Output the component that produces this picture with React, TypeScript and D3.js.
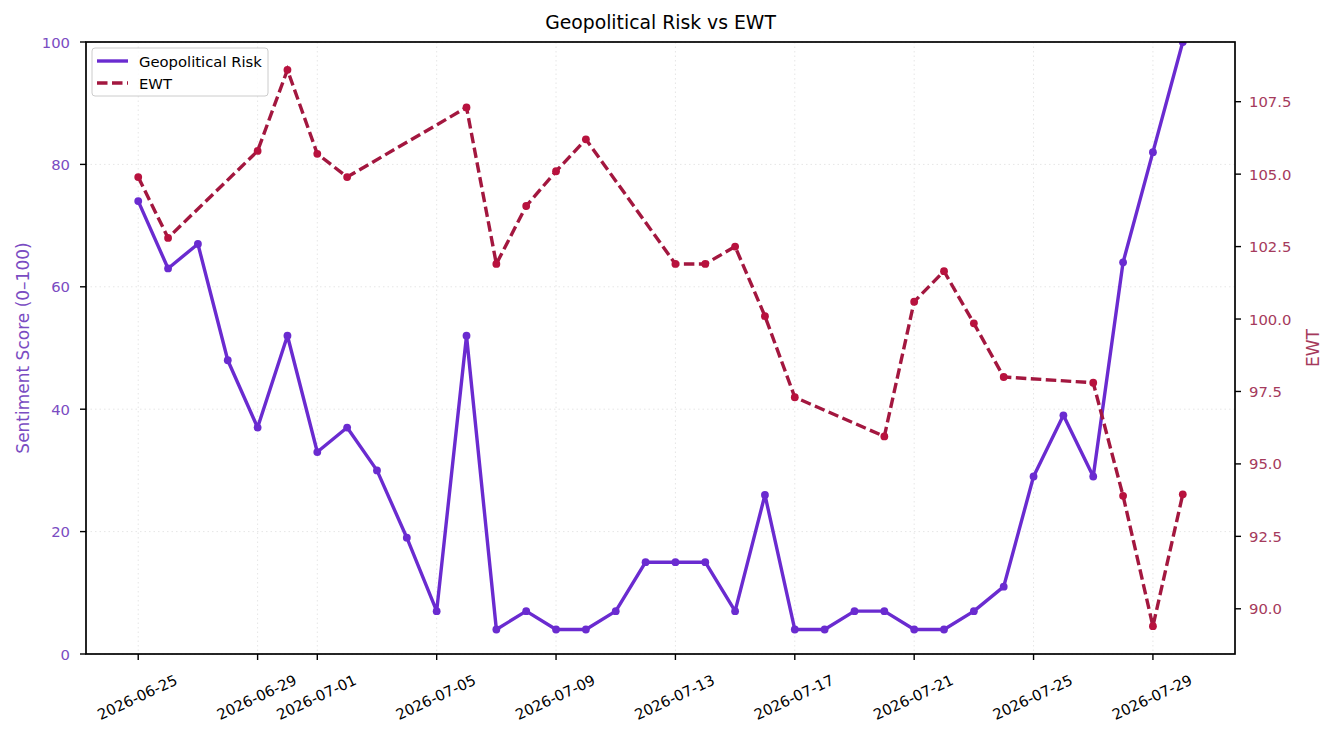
import { line, scaleLinear, scaleUtc, utcParse, extent, utcDay } from "d3";

const parseDay = utcParse("%Y-%m-%d");

// daily sentiment readings
const riskDates = [
  "2026-06-25", "2026-06-26", "2026-06-27", "2026-06-28", "2026-06-29", "2026-06-30",
  "2026-07-01", "2026-07-02", "2026-07-03", "2026-07-04", "2026-07-05", "2026-07-06",
  "2026-07-07", "2026-07-08", "2026-07-09", "2026-07-10", "2026-07-11", "2026-07-12",
  "2026-07-13", "2026-07-14", "2026-07-15", "2026-07-16", "2026-07-17", "2026-07-18",
  "2026-07-19", "2026-07-20", "2026-07-21", "2026-07-22", "2026-07-23", "2026-07-24",
  "2026-07-25", "2026-07-26", "2026-07-27", "2026-07-28", "2026-07-29", "2026-07-30",
];
const riskValues = [
  74, 63, 67, 48, 37, 52, 33, 37, 30, 19, 7, 52, 4, 7, 4, 4, 7, 15,
  15, 15, 7, 26, 4, 4, 7, 7, 4, 4, 7, 11, 29, 39, 29, 64, 82, 100,
];

// trading-day closes
const ewtDates = [
  "2026-06-25", "2026-06-26", "2026-06-29", "2026-06-30", "2026-07-01", "2026-07-02",
  "2026-07-06", "2026-07-07", "2026-07-08", "2026-07-09", "2026-07-10", "2026-07-13",
  "2026-07-14", "2026-07-15", "2026-07-16", "2026-07-17", "2026-07-20", "2026-07-21",
  "2026-07-22", "2026-07-23", "2026-07-24", "2026-07-27", "2026-07-28", "2026-07-29",
  "2026-07-30",
];
const ewtValues = [
  104.9, 102.8, 105.8, 108.6, 105.7, 104.9, 107.3, 101.9, 103.9, 105.1, 106.2, 101.9,
  101.9, 102.5, 100.1, 97.3, 95.95, 100.6, 101.65, 99.85, 98.0, 97.8, 93.9, 89.4,
  93.95,
];

const xTickDates = [
  "2026-06-25", "2026-06-29", "2026-07-01", "2026-07-05", "2026-07-09",
  "2026-07-13", "2026-07-17", "2026-07-21", "2026-07-25", "2026-07-29",
];
const leftTicks = [0, 20, 40, 60, 80, 100];
const rightTicks = [90, 92.5, 95, 97.5, 100, 102.5, 105, 107.5];

const RISK_COLOR = "#6a2bd0";
const EWT_COLOR = "#a3173f";
const EWT_MARKER = "#b8123e";
const LEFT_TEXT = "#7a4cc2";
const RIGHT_TEXT = "#a53a5c";
const FONT = "DejaVu Sans, sans-serif";
const TICK_SIZE = 14.8;

export default function App() {
  const width = 1335;
  const height = 735;
  const margin = { top: 42, right: 100, bottom: 81, left: 86 };
  const innerRight = width - margin.right;
  const innerBottom = height - margin.bottom;

  const risk = riskDates.map((d, i) => ({ date: parseDay(d)!, value: riskValues[i] }));
  const ewt = ewtDates.map((d, i) => ({ date: parseDay(d)!, value: ewtValues[i] }));

  // matplotlib-style 5% padding on the date axis
  const [d0, d1] = extent(risk, (p) => p.date) as [Date, Date];
  const pad = (d1.getTime() - d0.getTime()) * 0.05;
  const x = scaleUtc()
    .domain([new Date(d0.getTime() - pad), new Date(d1.getTime() + pad)])
    .range([margin.left, innerRight]);

  const yLeft = scaleLinear().domain([0, 100]).range([innerBottom, margin.top]);

  const [e0, e1] = extent(ewtValues) as [number, number];
  const ePad = (e1 - e0) * 0.05;
  const yRight = scaleLinear().domain([e0 - ePad, e1 + ePad]).range([innerBottom, margin.top]);

  const riskLine = line<{ date: Date; value: number }>()
    .x((p) => x(p.date))
    .y((p) => yLeft(p.value));
  const ewtLine = line<{ date: Date; value: number }>()
    .x((p) => x(p.date))
    .y((p) => yRight(p.value));

  const xTicks = xTickDates.map((d) => utcDay.floor(parseDay(d)!));

  return (
    <div style={{ position: "absolute", left: 0, top: 0 }}>
      <svg width={width} height={height} fontFamily={FONT} style={{ display: "block", background: "#fff" }}>
        <defs>
          <clipPath id="plot-clip">
            <rect x={margin.left} y={margin.top} width={innerRight - margin.left} height={innerBottom - margin.top} />
          </clipPath>
        </defs>

        {/* grid */}
        {xTicks.map((t) => (
          <line
            key={`gx-${t.toISOString()}`}
            x1={x(t)}
            x2={x(t)}
            y1={margin.top}
            y2={innerBottom}
            stroke="#e6e6e6"
            strokeWidth={1}
            strokeDasharray="1.5,3"
          />
        ))}
        {leftTicks.map((t) => (
          <line
            key={`gy-${t}`}
            x1={margin.left}
            x2={innerRight}
            y1={yLeft(t)}
            y2={yLeft(t)}
            stroke="#e6e6e6"
            strokeWidth={1}
            strokeDasharray="1.5,3"
          />
        ))}

        <g clipPath="url(#plot-clip)">
          <path
            d={riskLine(risk) ?? ""}
            fill="none"
            stroke={RISK_COLOR}
            strokeWidth={3.4}
            strokeLinejoin="round"
          />
          {risk.map((p) => (
            <circle key={`r-${p.date.toISOString()}`} cx={x(p.date)} cy={yLeft(p.value)} r={3.9} fill={RISK_COLOR} />
          ))}
        </g>

        <path
          d={ewtLine(ewt) ?? ""}
          fill="none"
          stroke={EWT_COLOR}
          strokeWidth={3.4}
          strokeDasharray="10.5,4.5"
        />
        {ewt.map((p) => (
          <circle key={`e-${p.date.toISOString()}`} cx={x(p.date)} cy={yRight(p.value)} r={3.9} fill={EWT_MARKER} />
        ))}

        {/* frame */}
        <rect
          x={margin.left}
          y={margin.top}
          width={innerRight - margin.left}
          height={innerBottom - margin.top}
          fill="none"
          stroke="#000"
          strokeWidth={1.7}
        />

        {/* bottom axis */}
        {xTicks.map((t) => (
          <g key={`xt-${t.toISOString()}`}>
            <line x1={x(t)} x2={x(t)} y1={innerBottom} y2={innerBottom + 6} stroke="#000" strokeWidth={1.4} />
            <text
              transform={`translate(${x(t) - 1},${innerBottom + 43}) rotate(-25)`}
              textAnchor="middle"
              dominantBaseline="central"
              fontSize={TICK_SIZE}
              fill="#000"
            >
              {t.toISOString().slice(0, 10)}
            </text>
          </g>
        ))}

        {/* left axis */}
        {leftTicks.map((t) => (
          <g key={`yl-${t}`}>
            <line x1={margin.left - 6} x2={margin.left} y1={yLeft(t)} y2={yLeft(t)} stroke="#000" strokeWidth={1.4} />
            <text
              x={margin.left - 16}
              y={yLeft(t)}
              textAnchor="end"
              dominantBaseline="central"
              fontSize={TICK_SIZE}
              fill={LEFT_TEXT}
            >
              {t}
            </text>
          </g>
        ))}
        <text
          transform={`translate(23,${(margin.top + innerBottom) / 2}) rotate(-90)`}
          textAnchor="middle"
          dominantBaseline="central"
          fontSize={17}
          fill={LEFT_TEXT}
        >
          Sentiment Score (0–100)
        </text>

        {/* right axis */}
        {rightTicks.map((t) => (
          <g key={`yr-${t}`}>
            <line x1={innerRight} x2={innerRight + 6} y1={yRight(t)} y2={yRight(t)} stroke="#000" strokeWidth={1.4} />
            <text
              x={innerRight + 14}
              y={yRight(t)}
              textAnchor="start"
              dominantBaseline="central"
              fontSize={TICK_SIZE}
              fill={RIGHT_TEXT}
            >
              {t.toFixed(1)}
            </text>
          </g>
        ))}
        <text
          transform={`translate(1313,${(margin.top + innerBottom) / 2}) rotate(-90)`}
          textAnchor="middle"
          dominantBaseline="central"
          fontSize={17}
          fill={RIGHT_TEXT}
        >
          EWT
        </text>

        {/* title */}
        <text x={(margin.left + innerRight) / 2} y={22} textAnchor="middle" dominantBaseline="central" fontSize={18.8} fill="#000">
          Geopolitical Risk vs EWT
        </text>

        {/* legend */}
        <g transform={`translate(${margin.left + 6},${margin.top + 6})`}>
          <rect width={176} height={48} rx={3} fill="#fff" fillOpacity={0.8} stroke="#cccccc" strokeWidth={1} />
          <line x1={5} x2={36} y1={13} y2={13} stroke={RISK_COLOR} strokeWidth={3.4} />
          <text x={47} y={13} dominantBaseline="central" fontSize={TICK_SIZE} fill="#000">
            Geopolitical Risk
          </text>
          <line x1={5} x2={36} y1={35} y2={35} stroke={EWT_COLOR} strokeWidth={3.4} strokeDasharray="10.5,4.5" />
          <text x={47} y={35} dominantBaseline="central" fontSize={TICK_SIZE} fill="#000">
            EWT
          </text>
        </g>
      </svg>
    </div>
  );
}
